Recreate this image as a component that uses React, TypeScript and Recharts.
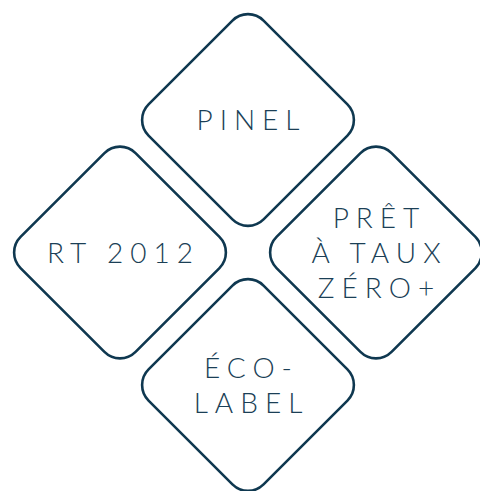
import React from "react";
import { ScatterChart, Scatter, XAxis, YAxis } from "recharts";

// Each badge: its label lines and its grid cell (column, row) in the diamond layout
const badgeLabels: string[][] = [
  ["PINEL"],
  ["RT 2012"],
  ["PRÊT", "À TAUX", "ZÉRO+"],
  ["ÉCO-", "LABEL"],
];
const badgeColumns: number[] = [1, 0, 2, 1];
const badgeRows: number[] = [0, 1, 1, 2];

const data = badgeLabels.map((lines, i) => ({
  lines,
  col: badgeColumns[i],
  row: badgeRows[i],
}));

const STROKE = "#0f3850";
const TEXT = "#1b3f56";
const R = 115; // sharp vertex distance
const RAD = 22; // corner radius
const LS = 7; // letter spacing
const LINE_H = 35;

function Diamond(props: any) {
  const { cx, cy, payload } = props;
  const d = RAD / Math.SQRT2;
  const path = [
    `M ${cx + d} ${cy - R + d}`,
    `L ${cx + R - d} ${cy - d}`,
    `A ${RAD} ${RAD} 0 0 1 ${cx + R - d} ${cy + d}`,
    `L ${cx + d} ${cy + R - d}`,
    `A ${RAD} ${RAD} 0 0 1 ${cx - d} ${cy + R - d}`,
    `L ${cx - R + d} ${cy + d}`,
    `A ${RAD} ${RAD} 0 0 1 ${cx - R + d} ${cy - d}`,
    `L ${cx - d} ${cy - R + d}`,
    `A ${RAD} ${RAD} 0 0 1 ${cx + d} ${cy - R + d}`,
    "Z",
  ].join(" ");
  const lines: string[] = payload.lines;
  const n = lines.length;
  return (
    <g>
      <path d={path} fill="#ffffff" stroke={STROKE} strokeWidth={2.6} />
      {lines.map((t, i) => (
        <text
          key={i}
          x={cx + LS / 2}
          y={cy - ((n - 1) * LINE_H) / 2 + i * LINE_H + 10}
          textAnchor="middle"
          fill={TEXT}
          fontFamily="Lato, 'Open Sans', sans-serif"
          fontWeight={300}
          fontSize={28}
          letterSpacing={LS}
        >
          {t}
        </text>
      ))}
    </g>
  );
}

export default function App() {
  return (
    <div style={{ position: "absolute", left: 0, top: 0, background: "#fff" }}>
      <ScatterChart width={480} height={491} margin={{ top: 0, right: 0, bottom: 0, left: 0 }}>
        <XAxis
          type="number"
          dataKey="col"
          hide
          scale="linear"
          allowDataOverflow
          domain={[-120 / 128, 360 / 128]}
        />
        <YAxis
          type="number"
          dataKey="row"
          hide
          reversed
          scale="linear"
          allowDataOverflow
          domain={[-120 / 132.5, 371 / 132.5]}
        />
        <Scatter data={data} shape={<Diamond />} isAnimationActive={false} />
      </ScatterChart>
    </div>
  );
}
